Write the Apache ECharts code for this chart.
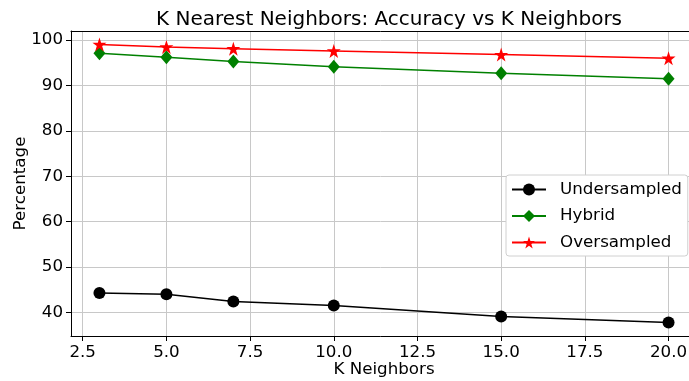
<!DOCTYPE html>
<html>
<head>
<meta charset="utf-8">
<script src="https://cdn.jsdelivr.net/npm/echarts@6/dist/echarts.min.js"></script>
<style>
  html, body { margin: 0; padding: 0; background: #fff; }
  #chart { width: 689px; height: 381px; }
</style>
</head>
<body>
<div id="chart"></div>
<script>
// K values tested and accuracy (%) for each sampling strategy
const kNeighbors = [3, 5, 7, 10, 15, 20];
const undersampled = [44.3, 44.0, 42.4, 41.5, 39.1, 37.8];
const hybrid = [97.1, 96.2, 95.3, 94.1, 92.7, 91.5];
const oversampled = [99.05, 98.5, 98.1, 97.6, 96.8, 96.0];

const xTicks = [2.5, 5.0, 7.5, 10.0, 12.5, 15.0, 17.5, 20.0];
const yTicks = [40, 50, 60, 70, 80, 90, 100];

const FONT = 'DejaVu Sans';
const FS = 16.7;
const X_MIN = 2.15, X_MAX = 20.85;
const Y_MIN = 34.8, Y_MAX = 102;

function pairs(values) {
  return kNeighbors.map((k, i) => [k, values[i]]);
}

const chart = echarts.init(document.getElementById('chart'), null, { renderer: 'canvas' });

const tickStyle = { show: true, length: 5, inside: false, lineStyle: { color: '#000', width: 1 } };
const gridLine = { show: true, lineStyle: { color: '#c8c8c8', width: 1 } };
const spine = { show: true, onZero: false, lineStyle: { color: '#000', width: 1 } };

chart.setOption({
  animation: false,
  backgroundColor: '#fff',
  title: {
    text: 'K Nearest Neighbors: Accuracy vs K Neighbors',
    left: 384,
    textAlign: 'center',
    top: 5,
    textStyle: { fontFamily: FONT, fontSize: 20, fontWeight: 'normal', color: '#000' }
  },
  grid: {
    left: 71, top: 31, width: 626, height: 305,
    outerBoundsMode: 'none',
    containLabel: false,
    show: false
  },
  legend: {
    orient: 'vertical',
    left: 506, top: 175,
    padding: [6, 6, 5, 5],
    backgroundColor: '#fff',
    borderColor: '#d0d0d0',
    borderWidth: 1,
    borderRadius: 3,
    itemWidth: 34,
    itemHeight: 15,
    itemGap: 9.5,
    textStyle: { fontFamily: FONT, fontSize: FS, color: '#000', padding: [0, 0, 0, 9] },
    data: ['Undersampled', 'Hybrid', 'Oversampled']
  },
  xAxis: [
    {
      type: 'value',
      position: 'bottom',
      min: X_MIN, max: X_MAX,
      name: 'K Neighbors',
      nameLocation: 'middle',
      nameGap: 25,
      nameMoveOverlap: false,
      nameTextStyle: { fontFamily: FONT, fontSize: FS, color: '#000' },
      axisLine: spine,
      axisTick: Object.assign({ customValues: xTicks }, tickStyle),
      axisLabel: {
        customValues: xTicks,
        margin: 8,
        fontFamily: FONT, fontSize: FS, color: '#000',
        formatter: v => v.toFixed(1)
      },
      splitLine: gridLine
    },
    {
      // top spine of the frame
      type: 'value', position: 'top', min: X_MIN, max: X_MAX,
      axisLine: spine, axisTick: { show: false }, axisLabel: { show: false }, splitLine: { show: false }
    }
  ],
  yAxis: {
    type: 'value',
    position: 'left',
    min: Y_MIN, max: Y_MAX,
    name: 'Percentage',
    nameLocation: 'middle',
    nameGap: 42,
    nameMoveOverlap: false,
    nameRotate: 90,
    nameTextStyle: { fontFamily: FONT, fontSize: FS, color: '#000' },
    axisLine: spine,
    axisTick: Object.assign({ customValues: yTicks }, tickStyle),
    axisLabel: {
      customValues: yTicks,
      margin: 8,
      fontFamily: FONT, fontSize: FS, color: '#000'
    },
    splitLine: gridLine
  },
  series: [
    {
      name: 'Undersampled', type: 'line', data: pairs(undersampled),
      symbol: 'circle', symbolSize: 12,
      lineStyle: { color: '#000', width: 1.5 },
      itemStyle: { color: '#000' }
    },
    {
      name: 'Hybrid', type: 'line', data: pairs(hybrid),
      symbol: 'diamond', symbolSize: [12, 14],
      lineStyle: { color: '#008000', width: 1.5 },
      itemStyle: { color: '#008000' }
    },
    {
      name: 'Oversampled', type: 'line', data: pairs(oversampled),
      symbol: 'path://M50,0 L61.2,34.5 L97.6,34.5 L68.2,55.9 L79.4,90.5 L50,69.1 L20.6,90.5 L31.8,55.9 L2.4,34.5 L38.8,34.5 Z',
      symbolSize: 14,
      lineStyle: { color: '#ff0000', width: 1.5 },
      itemStyle: { color: '#ff0000' }
    }
  ]
});
</script>
</body>
</html>
